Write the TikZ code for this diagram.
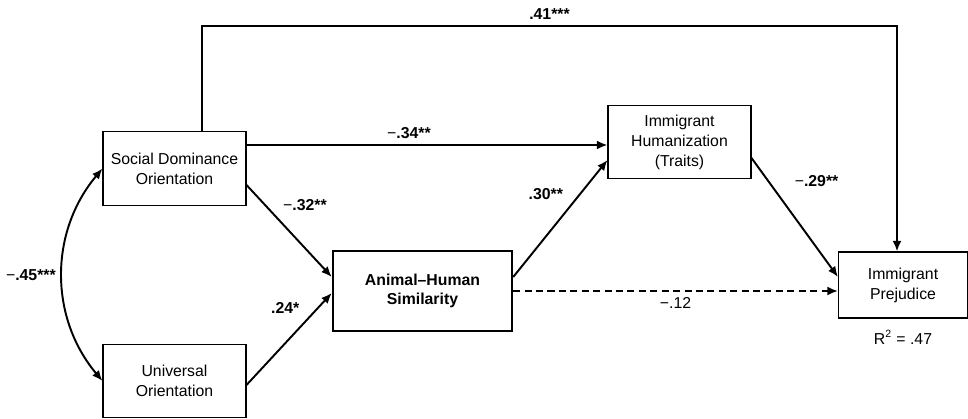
\documentclass[tikz,border=0pt]{standalone}
\usepackage{fontspec}
\setmainfont{Liberation Sans}
\usetikzlibrary{arrows.meta}
\newcommand{\mn}{\textmd{−}}
\tikzset{
  varbox/.style={draw,line width=0.6pt,align=center,inner sep=0pt,minimum width=2.86cm,minimum height=1.47cm},
  link/.style={line width=1.1pt,-{Latex[length=6pt,width=5pt]}},
  linkboth/.style={line width=1.1pt,{Latex[length=6pt,width=5pt]}-{Latex[length=6pt,width=5pt]}},
  coef/.style={font=\fontsize{9}{11}\selectfont\bfseries}
}
\begin{document}
\begin{tikzpicture}[x=0.02cm,y=-0.02cm,font=\fontsize{9}{11.4}\selectfont]
  \useasboundingbox (0,0) rectangle (968,419);
  \node[varbox] (sdo) at (174.5,168.5) {Social Dominance\\Orientation};
  \node[varbox] (uo) at (174.5,381) {Universal\\Orientation};
  \node[varbox,line width=1.4pt,minimum width=3.58cm,minimum height=1.6cm,coef] (ahs) at (422.5,291) {Animal–Human\\Similarity};
  \node[varbox] (iht) at (679.5,142) {Immigrant\\Humanization\\(Traits)};
  \node[varbox,minimum width=2.58cm,minimum height=1.32cm] (ip) at (903,285) {Immigrant\\Prejudice};
  \node (r2) at (903,337) {R\textsuperscript{2} = .47};
  % direct path over the top
  \coordinate (tl) at (202,26);
  \coordinate (tr) at (897,26);
  \draw[link] (sdo.north -| tl) -- (tl) -- node[coef,above]{.41***} (tr) -- (tr |- ip.north);
  \draw[link] ([yshift=4.7mm]sdo.east) -- node[coef,above,pos=0.45]{\mn.34**} ([yshift=4.7mm]sdo.east -| iht.west);
  \draw[link] ([yshift=-3.3mm]sdo.east) -- node[coef,pos=0.35,above right]{\mn.32**} ([yshift=2.8mm]ahs.west);
  \draw[link] ([yshift=-0.8mm]uo.east) -- node[coef,pos=0.7,above left]{.24*} ([yshift=-0.4mm]ahs.west);
  \draw[link] ([yshift=2.8mm]ahs.east) -- node[coef,pos=0.6,above left]{.30**} ([yshift=-3.6mm]iht.west);
  \draw[link,dash pattern=on 4pt off 2.5pt] (ahs.east) -- node[below]{−.12} (ahs.east -| ip.west);
  \draw[link] ([yshift=-3.2mm]iht.east) -- node[coef,pos=0.3,above right,xshift=6pt]{\mn.29**} ([yshift=1.6mm]ip.west);
  % correlation
  \draw[linkboth] (sdo.west) to[bend right=40] node[coef,left]{\mn.45***} (uo.west);
\end{tikzpicture}
\end{document}
